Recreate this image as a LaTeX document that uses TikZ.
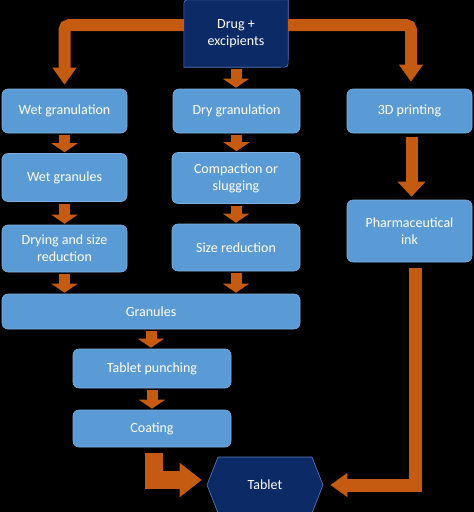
\documentclass[tikz,border=0pt]{standalone}
\usepackage{fontspec}
\setmainfont{Carlito}
\usetikzlibrary{arrows.meta,shapes.symbols,backgrounds}

\definecolor{stepblue}{RGB}{91,155,213}
\definecolor{stepedge}{RGB}{125,175,225}
\definecolor{navy}{RGB}{12,42,102}
\definecolor{navyedge}{RGB}{85,125,195}
\definecolor{flow}{RGB}{197,90,17}

\begin{document}
\begin{tikzpicture}[x=1pt, y=-1pt,
font=\fontsize{14}{17}\selectfont,
stepnode/.style={rectangle, rounded corners=6pt, draw=stepedge, line width=0.6pt, fill=stepblue, text=white, align=center, inner sep=0pt},
endnode/.style={signal, signal to=west and east, signal pointer angle=137, draw=navyedge, line width=0.6pt, fill=navy, text=white, inner sep=0pt},
startnode/.style={rectangle, text=white, align=center, inner sep=0pt},
smallflow/.style={draw=flow, line width=11pt, -{Triangle[width=26pt,length=9pt]}, shorten <=2pt, shorten >=1pt},
bigflow/.style={draw=flow, line width=12pt, -{Triangle[width=23pt,length=17pt]}},
]
\useasboundingbox (0,0) rectangle (474,512);
%Nodes
\node[startnode, minimum width=104pt, minimum height=67pt] (drug) at (236,33.5) {Drug +\\excipients};
\node[stepnode, minimum width=125pt, minimum height=44pt] (wet) at (64.5,111) {Wet granulation};
\node[stepnode, minimum width=127pt, minimum height=44pt] (dry) at (236.5,111) {Dry granulation};
\node[stepnode, minimum width=125pt, minimum height=44pt] (print) at (409.5,111) {3D printing};
\node[stepnode, minimum width=125pt, minimum height=48pt] (wetgran) at (64.5,177.5) {Wet granules};
\node[stepnode, minimum width=128pt, minimum height=51pt] (compact) at (236,178) {Compaction or\\slugging};
\node[stepnode, minimum width=125pt, minimum height=62pt] (ink) at (409.5,231) {Pharmaceutical\\ink};
\node[stepnode, minimum width=125pt, minimum height=47pt] (drying) at (64.5,248.5) {Drying and size\\reduction};
\node[stepnode, minimum width=128pt, minimum height=47pt] (sizered) at (236,247.5) {Size reduction};
\node[stepnode, minimum width=298pt, minimum height=35pt] (granules) at (151,311.5) {Granules};
\node[stepnode, minimum width=158pt, minimum height=39pt] (punch) at (152,368.5) {Tablet punching};
\node[stepnode, minimum width=158pt, minimum height=37pt] (coating) at (152,428.5) {Coating};
\node[endnode, minimum width=116pt, minimum height=56pt] (tablet) at (265,485) {Tablet};
%Background and start box
\begin{scope}[on background layer]
\fill[black] (0,0) rectangle (474,512);
\filldraw[fill=navy, draw=navyedge, line width=0.6pt] (drug.south west)
    -- ([yshift=-8pt]drug.north west) .. controls (drug.north west) .. ([xshift=8pt]drug.north west)
    -- (drug.north east)
    -- ([yshift=8pt]drug.south east) .. controls (drug.south east) .. ([xshift=-8pt]drug.south east)
    -- cycle;
\end{scope}
%Arrows
\draw[bigflow, rounded corners=5pt, shorten >=4pt] ([yshift=8.5pt]drug.west) -| (wet.north);
\draw[bigflow, rounded corners=5pt, shorten >=7pt] ([yshift=8.5pt]drug.east) -| ([xshift=1.5pt]print.north);
\draw[smallflow] (drug.south) -- (drug.south |- dry.north);
\draw[smallflow] (wet.south) -- (wetgran.north);
\draw[smallflow] (wetgran.south) -- (drying.north);
\draw[smallflow] (drying.south) -- (drying.south |- granules.north);
\draw[smallflow] (dry.south) -- (dry.south |- compact.north);
\draw[smallflow] (compact.south) -- (sizered.north);
\draw[smallflow] (sizered.south) -- (sizered.south |- granules.north);
\draw[smallflow] (granules.south) -- (granules.south |- punch.north);
\draw[smallflow] (punch.south) -- (coating.north);
\draw[draw=flow, line width=12pt, -{Triangle[width=27pt,length=15pt]}, shorten <=4pt, shorten >=3pt] ([xshift=2pt]print.south) -- ([xshift=2pt]ink.north);
\draw[bigflow, line width=13pt, shorten <=6pt, shorten >=7pt] ([xshift=5.5pt]ink.south) |- (tablet.east);
\draw[draw=flow, line width=18pt, -{Triangle[width=33pt,length=22pt]}, shorten <=6pt, shorten >=5pt] ([xshift=1.5pt]coating.south) |- ([yshift=5pt]tablet.west);
\end{tikzpicture}
\end{document}
